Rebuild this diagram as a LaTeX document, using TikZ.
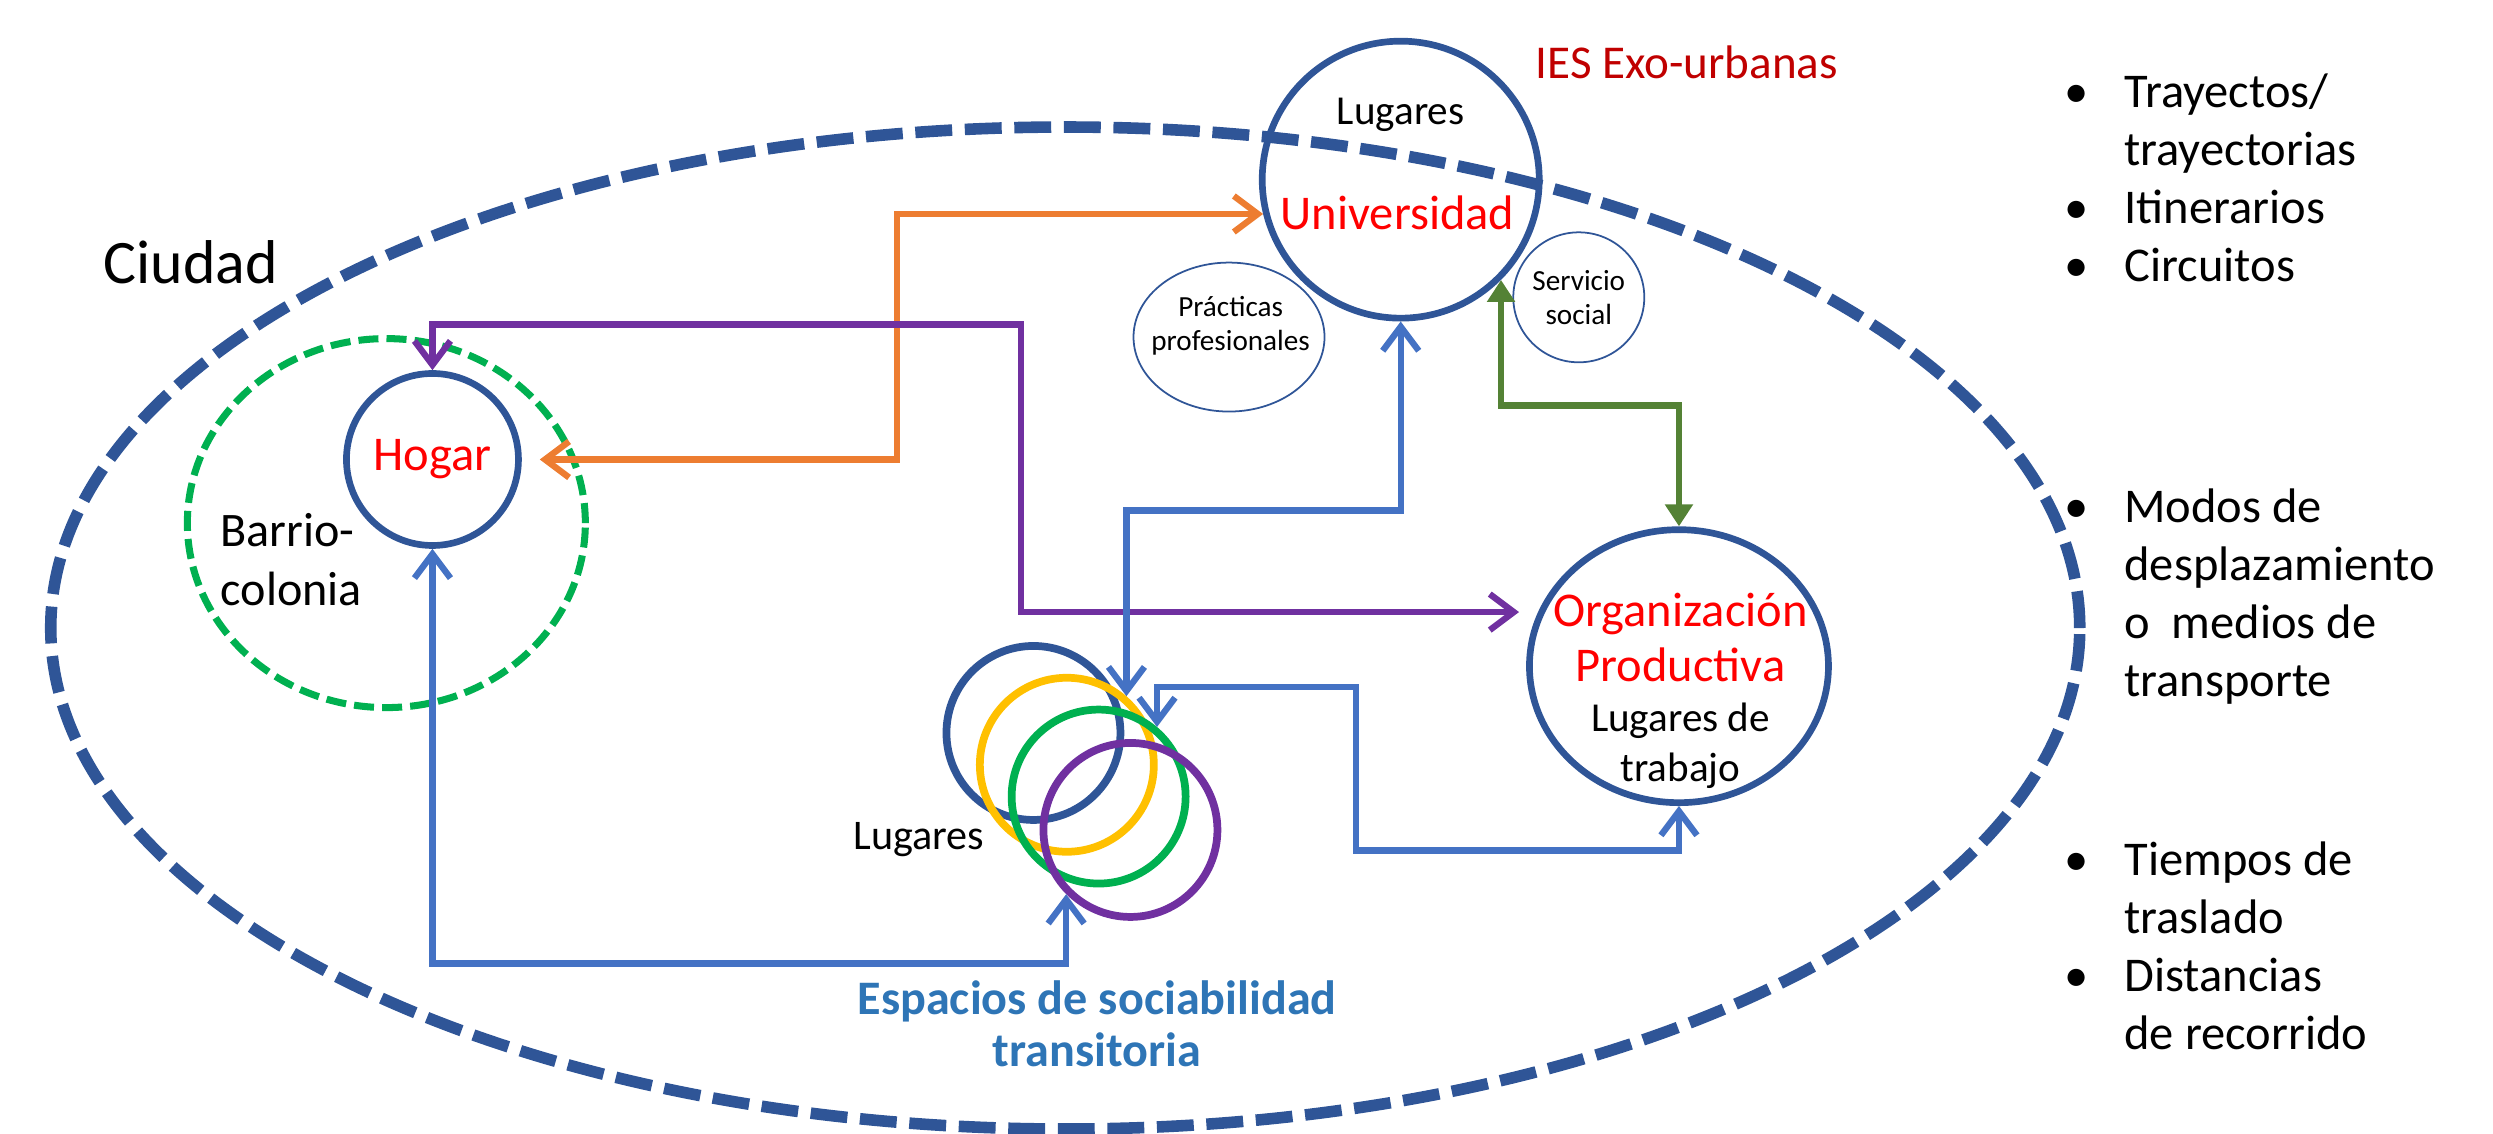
\documentclass[tikz,border=0pt]{standalone}
\usepackage{fontspec}
\setmainfont{Carlito}
\usetikzlibrary{shapes.geometric,arrows.meta}
\definecolor{ciudadblue}{RGB}{47,85,151}
\definecolor{flechablue}{RGB}{68,114,196}
\definecolor{espaciosblue}{RGB}{46,117,182}
\definecolor{lugarred}{RGB}{255,0,0}
\definecolor{iesred}{RGB}{192,0,0}
\definecolor{barriogreen}{RGB}{0,176,80}
\definecolor{ringyellow}{RGB}{255,192,0}
\definecolor{ringpurple}{RGB}{112,48,160}
\definecolor{flechaorange}{RGB}{237,125,49}
\definecolor{flechagreen}{RGB}{84,130,53}
\begin{document}
\begin{tikzpicture}[x=0.0159cm,y=-0.0159cm,
	lugar/.style={circle,draw=ciudadblue,line width=1.9pt,inner sep=0pt},
	anillo/.style={circle,line width=2.2pt,minimum size=1.74cm,inner sep=0pt},
	nota/.style={ellipse,draw=ciudadblue,line width=0.5pt,inner sep=0pt},
	chico/.style={align=center,font=\fontsize{8.3}{9.6}\selectfont},
	rojo/.style={text=lugarred,align=center,font=\fontsize{13.8}{15.8}\selectfont},
	txt/.style={align=center,font=\fontsize{11.7}{14}\selectfont},
	lista/.style={anchor=west,inner sep=0pt,font=\fontsize{13.8}{16.5}\selectfont},
	flecha/.style={line width=1.8pt,{Straight Barb[length=0.24cm,width=0.36cm]}-{Straight Barb[length=0.24cm,width=0.36cm]}}]
	\useasboundingbox (0,0) rectangle (1568,713);
	\node[ellipse,draw=ciudadblue,line width=3.3pt,dash pattern=on 10.5pt off 3.6pt,minimum width=20.29cm,minimum height=10.02cm,inner sep=0pt] (ciudad) at (670,395) {};
	\node[font=\fontsize{17.6}{20}\selectfont] (ciudadlbl) at (120,165) {Ciudad};

	\node[ellipse,draw=barriogreen,line width=2pt,dash pattern=on 5.7pt off 2.3pt,minimum width=3.98cm,minimum height=3.69cm,inner sep=0pt] (barrio) at (243,329) {};
	\node[anchor=west,align=left,font=\fontsize{13.7}{16.8}\selectfont] (barriolbl) at (131,352) {Barrio-\\colonia};
	\node[lugar,minimum size=1.72cm,rojo] (hogar) at (272,289) {Hogar};

	\node[lugar,minimum size=2.77cm] (univ) at (881,113) {};
	\node[txt] (univlugares) at (881,72) {Lugares};
	\node[rojo] (univlbl) at (879,134) {Universidad};
	\node[text=iesred,font=\fontsize{13.4}{16}\selectfont] (ies) at (1061,39) {IES Exo-urbanas};
	\node[nota,minimum width=1.91cm,minimum height=1.49cm] (practicas) at (773,212) {};
	\node[chico] (practicaslbl) at (774,205) {Prácticas\\profesionales};
	\node[nota,minimum width=1.27cm,minimum height=1.30cm,chico] (servicio) at (993,187) {Servicio\\social};

	\node[ellipse,draw=ciudadblue,line width=1.9pt,minimum width=2.99cm,minimum height=2.73cm,inner sep=0pt] (org) at (1056,419) {};
	\node[rojo] (orglbl) at (1057,401) {Organización\\Productiva};
	\node[txt] (orgtrabajo) at (1057,469) {Lugares de\\trabajo};

	\node[anillo,draw=ciudadblue] (ringa) at (650,461) {};
	\node[anillo,draw=ringyellow] (ringy) at (671,481) {};
	\node[anillo,draw=barriogreen] (ringg) at (691,501) {};
	\node[anillo,draw=ringpurple] (ringd) at (711,522) {};
	\node[font=\fontsize{12}{14}\selectfont] (lugares) at (578,528) {Lugares};
	\node[text=espaciosblue,align=center,font=\bfseries\fontsize{13.7}{15}\selectfont] (espacios) at (690,644) {Espacios de sociabilidad\\transitoria};

	\node[lista] (lista1) at (1298,115) {\begin{tabular}{@{}p{0.6cm}@{}l@{}}
		\textbullet & Trayectos/\\ & trayectorias\\ \textbullet & Itinerarios\\ \textbullet & Circuitos\end{tabular}};
	\node[lista] (lista2) at (1298,376) {\begin{tabular}{@{}p{0.6cm}@{}l@{}}
		\textbullet & Modos de\\ & desplazamiento\\ & o\ \ medios de\\ & transporte\end{tabular}};
	\node[lista] (lista3) at (1298,598) {\begin{tabular}{@{}p{0.6cm}@{}l@{}}
		\textbullet & Tiempos de\\ & traslado\\ \textbullet & Distancias\\ & de recorrido\end{tabular}};

	\coordinate (k1) at (470,606);
	\coordinate (k2) at (800,321);
	\coordinate (k3) at (853,432);
	\coordinate (k3b) at (950,535);
	\coordinate (k4) at (1000,255);
	\coordinate (k5) at (642,204);
	\coordinate (k6) at (564,210);
	\draw[flecha,flechaorange,shorten <=0.18cm] (hogar.east) -| (k6) |- (univ.194);
	\draw[flecha,ringpurple,shorten >=0.19cm] (hogar.north) |- (k5) |- (org.159);
	\draw[flecha,flechablue] (hogar.south) |- (k1) -| (ringd.225);
	\draw[flecha,flechablue] (univ.south) |- (k2) -| (ringy.49);
	\draw[flecha,flechablue] (ringg.50) |- (k3) |- (k3b) -| (org.south);
	\draw[line width=1.8pt,flechagreen,{Triangle[length=0.22cm,width=0.27cm]}-{Triangle[length=0.22cm,width=0.27cm]}] (univ.-45) |- (k4) -| (org.north);
\end{tikzpicture}
\end{document}
